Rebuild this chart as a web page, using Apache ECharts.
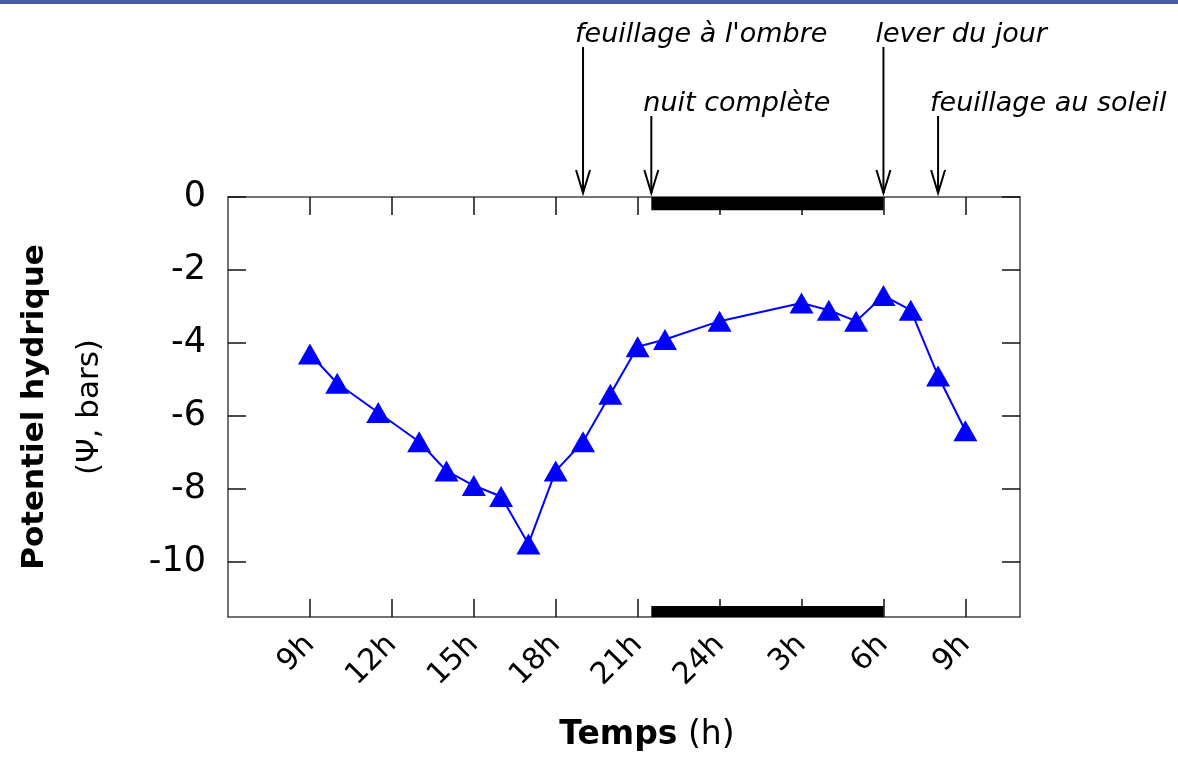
<!DOCTYPE html>
<html>
<head>
<meta charset="utf-8">
<script src="https://cdn.jsdelivr.net/npm/echarts@6/dist/echarts.min.js"></script>
<style>
html,body{margin:0;padding:0;background:#fff;}
#chart{width:1178px;height:762px;}
</style>
</head>
<body>
<div id="chart"></div>
<script>
// ---- data ----
const hours = [9, 10, 11.5, 13, 14, 15, 16, 17, 18, 19, 20, 21, 22, 24, 27, 28, 29, 30, 31, 32, 33];
const potential = [-4.3, -5.1, -5.9, -6.7, -7.5, -7.9, -8.2, -9.5, -7.5, -6.7, -5.4, -4.1, -3.9, -3.4, -2.9, -3.1, -3.4, -2.7, -3.1, -4.9, -6.4];
const xTickValues = [9, 12, 15, 18, 21, 24, 27, 30, 33];
const xTickLabels = ['9h', '12h', '15h', '18h', '21h', '24h', '3h', '6h', '9h'];
const yTickValues = [0, -2, -4, -6, -8, -10];
const nightStart = 21.5;
const nightEnd = 30;
const annotationLabels = ['feuillage à l\'ombre', 'nuit complète', 'lever du jour', 'feuillage au soleil'];
const annotationHours = [19, 21.5, 30, 32];
const annotationRow = [0, 1, 0, 1];

const FONT = '"DejaVu Sans", sans-serif';
const chart = echarts.init(document.getElementById('chart'));
const points = hours.map((h, i) => [h, potential[i]]);

const axisLine = {show: true, onZero: false, lineStyle: {color: '#444', width: 1.5}};
const tick = {show: true, inside: true, length: 18, lineStyle: {color: '#111', width: 1.5}};

const option = {
  animation: false,
  backgroundColor: '#fff',
  grid: {left: 228, right: 158, top: 197, bottom: 145, show: false, containLabel: false, outerBoundsMode: 'none'},
  xAxis: [{
    type: 'value', min: 6, max: 35,
    axisLine: axisLine,
    axisTick: Object.assign({}, tick, {customValues: xTickValues}),
    splitLine: {show: false},
    axisLabel: {
      customValues: xTickValues,
      rotate: 45, margin: 23, fontSize: 30, color: '#000', fontFamily: FONT,
      formatter: v => xTickLabels[xTickValues.indexOf(v)] || ''
    },
    name: '{b|Temps}{n| (h)}',
    nameLocation: 'middle', nameGap: 102,
    nameTextStyle: {
      padding: [0, 0, 0, 46],
      rich: {
        b: {fontSize: 33, fontWeight: 'bold', fontFamily: FONT, color: '#000'},
        n: {fontSize: 33, fontFamily: FONT, color: '#000'}
      }
    }
  }, {
    type: 'value', min: 6, max: 35, position: 'top',
    axisLine: axisLine,
    axisTick: Object.assign({}, tick, {customValues: xTickValues}),
    axisLabel: {show: false}, splitLine: {show: false}
  }],
  yAxis: [{
    type: 'value', min: -11.5, max: 0,
    axisLine: axisLine,
    axisTick: Object.assign({}, tick, {customValues: yTickValues}),
    splitLine: {show: false},
    axisLabel: {customValues: yTickValues, margin: 22, fontSize: 35, color: '#000', fontFamily: FONT},
    name: '{b|Potentiel hydrique}\n{n|(Ψ, bars)}',
    nameLocation: 'middle', nameGap: 111, nameRotate: 90,
    nameTextStyle: {
      align: 'center',
      rich: {
        b: {fontSize: 31, fontWeight: 'bold', fontFamily: FONT, color: '#000', lineHeight: 55, align: 'center'},
        n: {fontSize: 31, fontFamily: FONT, color: '#000', lineHeight: 55, align: 'center'}
      }
    }
  }, {
    type: 'value', min: -11.5, max: 0, position: 'right',
    axisLine: axisLine,
    axisTick: Object.assign({}, tick, {customValues: yTickValues}),
    axisLabel: {show: false}, splitLine: {show: false}
  }],
  series: [{
    type: 'line',
    data: points,
    symbol: 'triangle',
    symbolSize: [24, 21],
    showAllSymbol: true,
    itemStyle: {color: '#0000ff'},
    lineStyle: {color: '#0000ff', width: 2},
    z: 5,
    markArea: {
      silent: true,
      itemStyle: {color: '#000'},
      data: [
        [{coord: [nightStart, 0]}, {coord: [nightEnd, -0.36]}],
        [{coord: [nightStart, -11.2]}, {coord: [nightEnd, -11.5]}]
      ]
    }
  }]
};
chart.setOption(option);

// annotations (arrows above the plot), positioned through the x scale
const rowTextY = [35, 104];
const rowLineTop = [47, 116];
const tipY = 193;
const graphics = [{
  type: 'rect', shape: {x: 0, y: 0, width: 1178, height: 4},
  style: {fill: '#4b5aac'}
}];
annotationHours.forEach((h, i) => {
  const x = chart.convertToPixel({xAxisIndex: 0}, h);
  const r = annotationRow[i];
  graphics.push({
    type: 'line', shape: {x1: x, y1: rowLineTop[r], x2: x, y2: tipY},
    style: {stroke: '#000', lineWidth: 2}
  });
  graphics.push({
    type: 'polyline', shape: {points: [[x - 7, tipY - 23], [x, tipY], [x + 7, tipY - 23]]},
    style: {stroke: '#000', lineWidth: 2, fill: null}
  });
  graphics.push({
    type: 'text', x: x - 8, y: rowTextY[r],
    style: {text: annotationLabels[i], fontSize: 27, fontStyle: 'italic', fontFamily: FONT, fill: '#000',
            textVerticalAlign: 'middle', verticalAlign: 'middle', align: 'left'}
  });
});
chart.setOption({graphic: graphics});
</script>
</body>
</html>
